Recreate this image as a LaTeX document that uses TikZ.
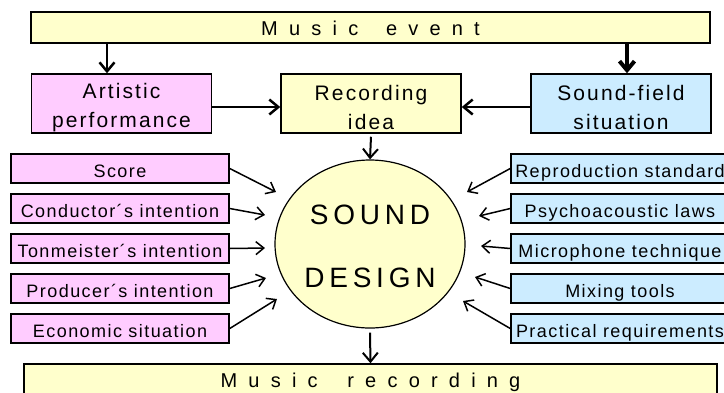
\documentclass[tikz,border=0pt]{standalone}
\usepackage{fontspec}
\setmainfont{Liberation Sans}
\newfontfamily\spreadfont[LetterSpace=56]{Liberation Sans}
\newfontfamily\boxfont[LetterSpace=10]{Liberation Sans}
\newfontfamily\itemfont[LetterSpace=8]{Liberation Sans}
\newfontfamily\designfont[LetterSpace=17]{Liberation Sans}
\usetikzlibrary{arrows.meta,shapes.geometric}

\definecolor{eventyellow}{RGB}{255,255,204}
\definecolor{artpink}{RGB}{255,204,255}
\definecolor{fieldblue}{RGB}{204,236,255}

\begin{document}
\begin{tikzpicture}[x=1pt,y=-1pt,
  bar/.style={draw, fill=eventyellow, line width=1.5pt, inner sep=0pt,
    text height=15pt, text depth=0pt,
    font=\spreadfont\fontsize{20}{24}\selectfont},
  box/.style={draw, line width=1.5pt, inner sep=0pt, minimum width=180pt,
    minimum height=59pt, align=center, execute at begin node={\rule{0pt}{53pt}},
    font=\boxfont\fontsize{21}{29}\selectfont},
  item/.style={draw, line width=1.5pt, inner sep=0pt, minimum width=218pt,
    minimum height=29pt, text height=19pt, text depth=2pt,
    font=\itemfont\fontsize{18}{22}\selectfont},
  design/.style={ellipse, draw, fill=eventyellow, line width=1.2pt, inner sep=0pt,
    minimum width=190pt, minimum height=168pt, align=center,
    execute at begin node={\rule{0pt}{88pt}},
    font=\designfont\fontsize{28}{34}\selectfont},
  main arrow/.style={-{Straight Barb[length=9pt,width=15pt]}, line width=2.5pt},
  thin arrow/.style={-{Straight Barb[length=8pt,width=13pt]}, line width=1.5pt}]
\useasboundingbox (0,0) rectangle (724,392);

% Ereignis oben
\node[bar, minimum width=679pt, minimum height=31pt] (event) at (370.5,27.5) {Music \hspace{11pt}event};

% mittlere Reihe
\node[box, fill=artpink] (art) at (121.5,103.5) {Artistic\\performance};
\node[box, fill=eventyellow] (idea) at (371,103.5) {Recording\\idea};
\node[box, fill=fieldblue] (field) at (621,103.5) {Sound-field\\situation};

% Kreis
\node[design] (design) at (370,244) {SOUND\\[29pt]DESIGN};

% Ergebnis unten
\node[bar, minimum width=693pt, minimum height=31pt] (rec) at (370.5,379.5) {Music \hspace{13pt}recording};

% linke Faktoren
\foreach \txt [count=\i] in {Score, Conductor´s intention, Tonmeister´s intention,
    Producer´s intention, Economic situation}
  \node[item, fill=artpink] (l\i) at (120,128.5+40*\i) {\txt};

% rechte Faktoren
\foreach \txt [count=\i] in {Reproduction standard, Psychoacoustic laws,
    Microphone technique, Mixing tools, Practical requirements}
  \node[item, fill=fieldblue] (r\i) at (620,128.5+40*\i) {\txt};

% Pfeile
\draw[main arrow] ([xshift=-14.5pt]art.north |- event.south) -- ([xshift=-14.5pt]art.north);
\draw[main arrow, line width=4pt] ([xshift=6pt]field.north |- event.south) -- ([xshift=6pt]field.north);
\draw[main arrow] ([yshift=-3.5pt]art.east) -- ([yshift=-3.5pt]art.east -| idea.west);
\draw[main arrow] ([yshift=-3.5pt]field.west) -- ([yshift=-3.5pt]field.west -| idea.east);
\draw[main arrow, line width=2pt] ([yshift=-3pt]idea.south) -- (design.north);
\draw[main arrow, line width=2pt] ([yshift=-4pt]design.south) -- (rec.north);

\foreach \i/\ex/\ey in {1/276/192, 2/265/215, 3/265/248, 4/266/278, 5/277/299} {
  \coordinate (lt\i) at (\ex,\ey);
  \draw[thin arrow] (l\i.east) -- (lt\i);
}
\foreach \i/\ex/\ey in {1/467/192, 2/479/216, 3/481/246, 4/475/277, 5/463/301} {
  \coordinate (rt\i) at (\ex,\ey);
  \draw[thin arrow] (r\i.west) -- (rt\i);
}
\end{tikzpicture}
\end{document}
